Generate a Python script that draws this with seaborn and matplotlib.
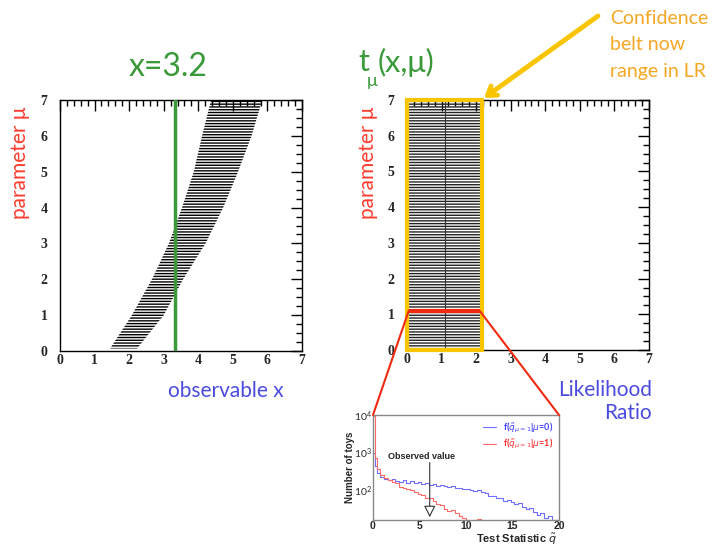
#!/usr/bin/env python
# -*- coding: utf-8 -*-

######################################################
# Neyman belt -> likelihood ratio belt, with toy distributions
######################################################

import numpy as np
import pandas as pd
import matplotlib
matplotlib.use("Agg")
import matplotlib.pyplot as plt
import seaborn as sns
from matplotlib.patches import Rectangle, ConnectionPatch, FancyArrowPatch
from matplotlib.lines import Line2D
from matplotlib.ticker import MultipleLocator, LogLocator, NullFormatter

OUTPUT = "out.png"

# confidence belt edges (left panel)
belt_mu = [0.07, 1, 2, 3, 4, 5, 6, 7]
belt_lo = [1.45, 2.08, 2.66, 3.15, 3.53, 3.87, 4.11, 4.37]
belt_hi = [2.23, 3.00, 3.56, 4.21, 4.72, 5.15, 5.54, 5.85]
x_obs = 3.32

# belt in likelihood-ratio space (right panel)
lr_lo, lr_hi = 0.05, 2.1
lr_mid = 1.1
mu_sel = 1.1

# toy distributions of the test statistic (lower panel)
q_edges = [0.0, 0.2] + [round(0.4 * k, 1) for k in range(1, 51)]
q_mu0 = [1000, 447, 282, 224, 200, 190, 200, 178, 166, 182, 158, 170, 151,
         166, 148, 158, 141, 148, 132, 138, 126, 120, 129, 112, 117, 105,
         110, 100, 95, 100, 89, 83, 71, 68, 60, 63, 52, 56, 48, 42, 45, 35,
         32, 33, 26, 22, 24, 18, 20, 15, 16]
q_mu1 = [9500, 708, 355, 251, 209, 190, 166, 151, 120, 112, 105, 100, 89,
         79, 76, 63, 60, 50, 42, 40, 32, 28, 30, 24, 20, 18, 0, 0, 0, 17, 0,
         0, 0, 0, 0, 0, 0, 0, 0, 0, 0, 0, 0, 0, 0, 0, 0, 0, 0, 0, 0]
q_observed = 6.1

W, H = 719, 545
GREEN = "#3a9a3a"
RED = "#ff3b2f"
BLUE = "#4b4be0"
ORANGE = "#f5a623"
YELLOW = "#f8c500"
LINE_RED = "#f02a10"
TXT = ["Lato", "DejaVu Sans"]


def fx(px):
    return px / W


def fy(py):
    return 1 - py / H


def root_axes(ax):
    """ROOT-like frame: inward ticks on all sides, serif bold labels"""
    ax.set_xlim(0, 7)
    ax.set_ylim(0, 7)
    ax.set_xticks(range(8))
    ax.set_yticks(range(8))
    ax.xaxis.set_minor_locator(MultipleLocator(0.2))
    ax.yaxis.set_minor_locator(MultipleLocator(0.25))
    ax.tick_params(which="both", direction="in", top=True, right=True,
                   color="black", width=1)
    ax.tick_params(which="major", length=8, labelsize=10)
    ax.tick_params(which="minor", length=4)
    ax.tick_params(axis="x", pad=2)
    ax.tick_params(axis="y", pad=9)
    for lab in ax.get_xticklabels() + ax.get_yticklabels():
        lab.set_fontfamily("Liberation Serif")
        lab.set_fontweight("bold")
    for s in ax.spines.values():
        s.set_color("black")
        s.set_linewidth(1)
    ax.set_xlabel("")
    ax.set_ylabel("")


def main():
    sns.set_style("white")
    plt.rcParams["hatch.linewidth"] = 1.0
    plt.rcParams["font.family"] = TXT

    fig = plt.figure(figsize=(W / 100, H / 100), dpi=100)

    # ---------------- left: belt in observable x
    ax1 = fig.add_axes([fx(60), fy(351), fx(242), 251 / H])
    ax1.fill_betweenx(belt_mu, belt_lo, belt_hi, facecolor="none",
                      edgecolor="black", hatch="------", linewidth=0)
    sns.lineplot(x=[x_obs, x_obs], y=[0, 7], color=GREEN, lw=2.5,
                 estimator=None, sort=False, ax=ax1, zorder=4)
    root_axes(ax1)

    # ---------------- right: belt in LR
    ax2 = fig.add_axes([fx(407), fy(350), fx(242), 250 / H])
    ax2.fill_betweenx([0, 7], lr_lo, lr_hi, facecolor="none",
                      edgecolor="#222222", hatch="------", linewidth=0)
    ax2.axvline(lr_mid, color="#333333", lw=0.8)
    root_axes(ax2)
    ax2.add_patch(Rectangle((0, 0), 2.17, 7, fill=False, edgecolor=YELLOW,
                            lw=3, clip_on=False, zorder=5))
    ax2.plot([lr_lo, lr_hi], [mu_sel, mu_sel], color=LINE_RED, lw=3,
             solid_capstyle="butt", zorder=6)

    # ---------------- bottom: toy distributions
    ax3 = fig.add_axes([fx(373), fy(520), fx(186), 105 / H])
    centers = [(a + b) / 2 for a, b in zip(q_edges[:-1], q_edges[1:])]
    toys = pd.DataFrame({"q": centers, "mu0": q_mu0, "mu1": q_mu1})
    sns.histplot(data=toys, x="q", weights="mu0", bins=q_edges,
                 element="step", fill=False, color="#6f6fff", lw=0.8, ax=ax3)
    sns.histplot(data=toys, x="q", weights="mu1", bins=q_edges,
                 element="step", fill=False, color="#ff6b6b", lw=0.8, ax=ax3)
    ax3.set_yscale("log")
    ax3.set_xlim(0, 20)
    ax3.set_ylim(16, 1e4)
    ax3.set_xticks([0, 5, 10, 15, 20])
    ax3.xaxis.set_minor_locator(MultipleLocator(1))
    ax3.yaxis.set_minor_locator(LogLocator(subs=np.arange(2, 10)))
    ax3.yaxis.set_minor_formatter(NullFormatter())
    ax3.tick_params(which="both", direction="in", color="#555555")
    ax3.tick_params(which="major", length=5, labelsize=7.5, pad=1)
    ax3.tick_params(which="minor", length=2.5)
    for lab in ax3.get_xticklabels():
        lab.set_fontweight("bold")
        lab.set_fontfamily("Liberation Sans")
    for s in ax3.spines.values():
        s.set_color("#888888")
        s.set_linewidth(1)
    ax3.set_xlabel("")
    ax3.set_ylabel("")
    ax3.annotate("", xy=(q_observed, 16), xytext=(q_observed, 640),
                 arrowprops=dict(arrowstyle="-|>,head_length=0.7,head_width=0.35",
                                 fc="white", ec="#333333", lw=0.8))
    ax3.text(5.2, 790, "Observed value", ha="center", va="center",
             fontsize=6.5, fontweight="bold", family="Liberation Sans")
    handles = [Line2D([], [], color="#6f6fff", lw=0.8),
               Line2D([], [], color="#ff6b6b", lw=0.8)]
    labels = [r"f($\tilde{q}_{\mu=1}$|$\mu$=0)", r"f($\tilde{q}_{\mu=1}$|$\mu$=1)"]
    leg = ax3.legend(handles, labels, loc="upper right", frameon=False,
                     fontsize=6.5, handlelength=1.5, labelspacing=0.3,
                     borderaxespad=0.2, labelcolor=["#4040ff", "#ff3030"])
    for t in leg.get_texts():
        t.set_fontweight("bold")
    fig.text(fx(350), fy(467), "Number of toys", rotation=90, ha="center",
             va="center", fontsize=7, fontweight="bold", family="Liberation Sans")
    fig.text(fx(557), fy(539), r"Test Statistic $\tilde{q}$", ha="right",
             va="center", fontsize=8, fontweight="bold", family="Liberation Sans")

    # ---------------- connectors and arrow
    for xa, xb in [(lr_lo, 0), (lr_hi, 1)]:
        con = ConnectionPatch(xyA=(xa, mu_sel), coordsA="data", axesA=ax2,
                              xyB=(xb, 1), coordsB="axes fraction", axesB=ax3,
                              color=LINE_RED, lw=1.5)
        fig.add_artist(con)
    arr = FancyArrowPatch((fx(598), fy(16)), (fx(484), fy(98)),
                          transform=fig.transFigure, color=YELLOW, lw=3.5,
                          arrowstyle="->,head_length=6,head_width=4",
                          shrinkA=0, shrinkB=0)
    fig.add_artist(arr)

    # ---------------- slide texts
    txt = dict(family=TXT, fontweight="normal")
    fig.text(fx(168), fy(67), "x=3.2", color=GREEN, fontsize=23,
             ha="center", va="center", **txt)
    fig.text(fx(358), fy(62), "t", color=GREEN, fontsize=22, ha="left",
             va="center", **txt)
    fig.text(fx(367), fy(81), "μ", color=GREEN, fontsize=13, ha="left",
             va="center", **txt)
    fig.text(fx(378), fy(62), "(x,μ)", color=GREEN, fontsize=22, ha="left",
             va="center", **txt)
    for xpos in [20, 368]:
        fig.text(fx(xpos), fy(163), "parameter μ", color=RED, fontsize=15,
                 rotation=90, ha="center", va="center", **txt)
    fig.text(fx(226), fy(391), "observable x", color=BLUE, fontsize=15,
             ha="center", va="center", **txt)
    fig.text(fx(652), fy(390), "Likelihood", color=BLUE, fontsize=15,
             ha="right", va="center", **txt)
    fig.text(fx(652), fy(413), "Ratio", color=BLUE, fontsize=15,
             ha="right", va="center", **txt)
    for i, line in enumerate(["Confidence", "belt now", "range in LR"]):
        fig.text(fx(610), fy(19 + 26 * i), line, color=ORANGE, fontsize=14,
                 ha="left", va="center", **txt)

    plt.savefig(OUTPUT, dpi=100)


if __name__ == "__main__":
    main()
